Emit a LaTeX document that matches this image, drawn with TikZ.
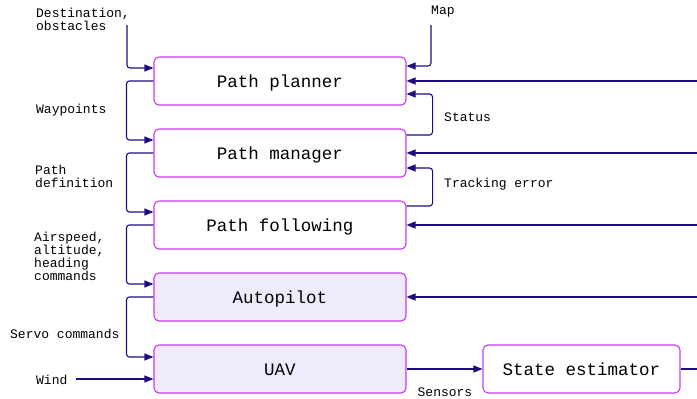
\documentclass[tikz,border=0pt]{standalone}
\usepackage{fontspec}
\setmonofont{Liberation Mono}
\usepackage{xcolor}
\definecolor{BoxViolet}{HTML}{C23CF5}
\definecolor{BoxFill}{HTML}{F0EBFA}
\definecolor{FlowNavy}{HTML}{1E0E7C}
\usepackage{tikz}
\usetikzlibrary{arrows.meta, positioning, calc}
\tikzset{
  % Box styles
  blockbox/.style={rectangle, rounded corners=5pt, draw=BoxViolet, line width=1.1pt, fill=white, minimum width=252pt, minimum height=48pt, font=\ttfamily\fontsize{17.5}{17.5}\selectfont, align=center, inner sep=0pt, text height=12pt, text depth=0pt},
  lowbox/.style={blockbox, fill=BoxFill},
  % Arrow styles
  flow/.style={-{Triangle[length=9pt, width=7pt]}, line width=1.1pt, FlowNavy, rounded corners=3pt},
  outline/.style={line width=2pt, FlowNavy},
  % Label styles
  sigtext/.style={anchor=west, inner sep=0pt, align=left, font=\ttfamily\fontsize{13}{13}\selectfont}
}

\begin{document}
\begin{tikzpicture}[x=1pt, y=-1pt, on grid]
  \useasboundingbox (0,0) rectangle (697,399);

  % Guidance and control stack
  \node[blockbox] (planner) at (280,81) {Path planner};
  \node[blockbox, below=72pt of planner] (manager) {Path manager};
  \node[blockbox, below=72pt of manager] (following) {Path following};
  \node[lowbox, below=72pt of following] (autopilot) {Autopilot};
  \node[lowbox, below=72pt of autopilot] (uav) {UAV};
  \node[blockbox, right=301.5pt of uav, minimum width=197pt] (estimator) {State estimator};

  % Inputs and right edge
  \coordinate (destsrc) at (127,25);
  \coordinate (mapsrc) at (431,25);
  \coordinate (windsrc) at (76,379);
  \coordinate (rim) at (697,0);

  % Signal names
  \node[sigtext] (destlbl) at (36,19) {Destination,\\obstacles};
  \node[sigtext] (maplbl) at (431,12) {Map};
  \node[sigtext] (waylbl) at (36,110) {Waypoints};
  \node[sigtext] (statuslbl) at (444,117) {Status};
  \node[sigtext] (deflbl) at (35,176.5) {Path\\definition};
  \node[sigtext] (trackinglbl) at (444,184) {Tracking error};
  \node[sigtext] (cmdlbl) at (34,256) {Airspeed,\\altitude,\\heading\\commands};
  \node[sigtext] (servolbl) at (10,334) {Servo commands};
  \node[sigtext] (windlbl) at (36,380) {Wind};
  \node[sigtext, anchor=center] (sensorslbl) at (445,392.5) {Sensors};

  % Left side: down the stack
  \draw[flow] (destsrc) |- ([yshift=13pt]planner.west);
  \draw[flow] (planner.west) -- ++(-27,0) |- ([yshift=13pt]manager.west);
  \draw[flow] (manager.west) -- ++(-27,0) |- ([yshift=13pt]following.west);
  \draw[flow] (following.west) -- ++(-27,0) |- ([yshift=13pt]autopilot.west);
  \draw[flow] (autopilot.west) -- ++(-27,0) |- ([yshift=12pt]uav.west);
  \draw[flow] (windsrc) -- (windsrc -| uav.west);

  % Right side: map, status and tracking error
  \draw[flow] (mapsrc) |- ([yshift=15pt]planner.east);
  \draw[flow] ([yshift=18pt]manager.east) -- ++(26,0) |- ([yshift=-13pt]planner.east);
  \draw[flow] ([yshift=19pt]following.east) -- ++(26,0) |- ([yshift=-15pt]manager.east);

  % State feedback
  \foreach \b in {planner,manager,following,autopilot}
    \draw[flow] (\b.east -| rim) -- (\b.east);
  \draw[flow] (uav) -- (estimator);
  \draw[outline] (estimator.east) -- (estimator.east -| rim);
\end{tikzpicture}
\end{document}
